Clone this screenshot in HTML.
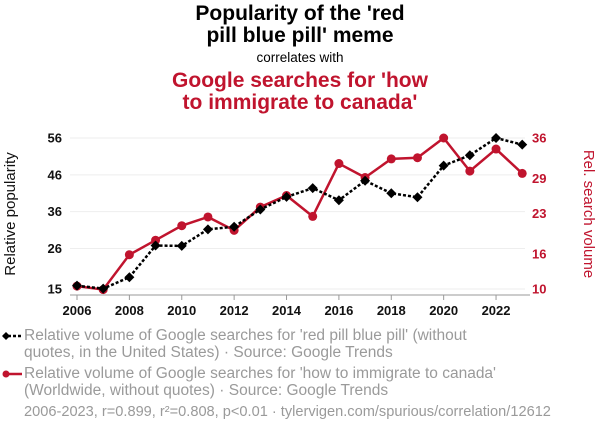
<!DOCTYPE html>
<html><head><meta charset="utf-8"><style>
body{margin:0;width:600px;height:436px;background:#fff;font-family:"Liberation Sans",Arial,sans-serif;overflow:hidden;position:relative}
.t{position:absolute;left:0;width:600px;text-align:center}
.lg{position:absolute;left:24px;font-size:15.5px;line-height:17px;color:#9a9a9a;white-space:nowrap}
</style></head><body>
<div class="t" style="top:3px;font-size:21px;font-weight:bold;line-height:22px">Popularity of the 'red<br>pill blue pill' meme</div>
<div class="t" style="top:50px;font-size:13.5px">correlates with</div>
<div class="t" style="top:70px;font-size:21px;font-weight:bold;line-height:22px;color:#c0142e">Google searches for 'how<br>to immigrate to canada'</div>
<svg width="600" height="436" style="position:absolute;left:0;top:0" id="chart"></svg>
<div class="lg" style="top:327px">Relative volume of Google searches for 'red pill blue pill' (without<br>quotes, in the United States) · Source: Google Trends</div>
<div class="lg" style="top:365px">Relative volume of Google searches for 'how to immigrate to canada'<br>(Worldwide, without quotes) · Source: Google Trends</div>
<div class="lg" style="top:404px;left:24px;font-size:14.6px">2006-2023, r=0.899, r²=0.808, p&lt;0.01 · tylervigen.com/spurious/correlation/12612</div>
<script>
const years=[2006,2007,2008,2009,2010,2011,2012,2013,2014,2015,2016,2017,2018,2019,2020,2021,2022,2023];
const memeValues=[15.9,15.1,18.2,26.8,26.7,31.2,31.9,36.6,40.0,42.4,39.1,44.4,41.0,39.9,48.5,51.3,56,54.2];
const canadaValues=[10.5,9.9,15.9,18.4,20.9,22.4,20.1,24.1,26.1,22.5,31.6,29.2,32.4,32.6,36,30.3,34.1,29.9];
const leftTicks=[15,26,36,46,56];
const rightTicks=[10,16,23,29,36];
const xTicks=[2006,2008,2010,2012,2014,2016,2018,2020,2022];
const NS="http://www.w3.org/2000/svg";
const svg=document.getElementById('chart');
const x=v=>77+(v-2006)*26.19;
const yL=v=>289-(v-15)*(151/41);
const yR=v=>289-(v-10)*(151/26);
function mk(t,a,p){const e=document.createElementNS(NS,t);for(const k in a)e.setAttribute(k,a[k]);(p||svg).appendChild(e);return e;}
leftTicks.forEach((t,i)=>{const y=yL(t);
 const g=mk('line',{x1:70,x2:525,y1:y,y2:y,stroke:'#eee','stroke-width':1});
 
 
 const l=mk('text',{x:62,y:y+4.5,'text-anchor':'end','font-size':13,'font-weight':'bold',fill:'#111'});l.textContent=t;
 
 
});
rightTicks.forEach(t=>{const l=mk('text',{x:532,y:yR(t)+4.5,'font-size':13,'font-weight':'bold',fill:'#c0142e'});l.textContent=t;
 
 
});
const ax=mk('line',{x1:70,x2:530,y1:295,y2:295,stroke:'#999'});


xTicks.forEach(t=>{mk('line',{x1:x(t),x2:x(t),y1:295,y2:300,stroke:'#999'});
 const l=mk('text',{x:x(t),y:315,'text-anchor':'middle','font-size':13,'font-weight':'bold',fill:'#111'});l.textContent=t;
 
 
});
const yt=mk('text',{transform:'translate(15,214) rotate(-90)','text-anchor':'middle','font-size':15,fill:'#111'});yt.textContent='Relative popularity';


const yt2=mk('text',{transform:'translate(584,214) rotate(90)','text-anchor':'middle','font-size':15,fill:'#c0142e'});yt2.textContent='Rel. search volume';


const rl=mk('polyline',{points:years.map((yr,i)=>x(yr)+','+yR(canadaValues[i])).join(' '),fill:'none',stroke:'#c0142e','stroke-width':2.5});


years.forEach((yr,i)=>{const c=mk('circle',{cx:x(yr),cy:yR(canadaValues[i]),r:4.5,fill:'#c0142e'});
 
 });
const bl=mk('polyline',{points:years.map((yr,i)=>x(yr)+','+yL(memeValues[i])).join(' '),fill:'none',stroke:'#000','stroke-width':2.5,'stroke-dasharray':'3,2'});


years.forEach((yr,i)=>{const cx=x(yr),cy=yL(memeValues[i]);
 const d=mk('polygon',{points:`${cx},${cy-5} ${cx+5},${cy} ${cx},${cy+5} ${cx-5},${cy}`,fill:'#000'});
 
 });
mk('line',{x1:3,x2:22,y1:336,y2:336,stroke:'#000','stroke-width':2.5,'stroke-dasharray':'3,2'});
mk('polygon',{points:'2,336 6,332 10,336 6,340',fill:'#000'});
mk('line',{x1:3,x2:22,y1:374,y2:374,stroke:'#c0142e','stroke-width':2.5});
mk('circle',{cx:6,cy:374,r:3.5,fill:'#c0142e'});
</script>
</body></html>
